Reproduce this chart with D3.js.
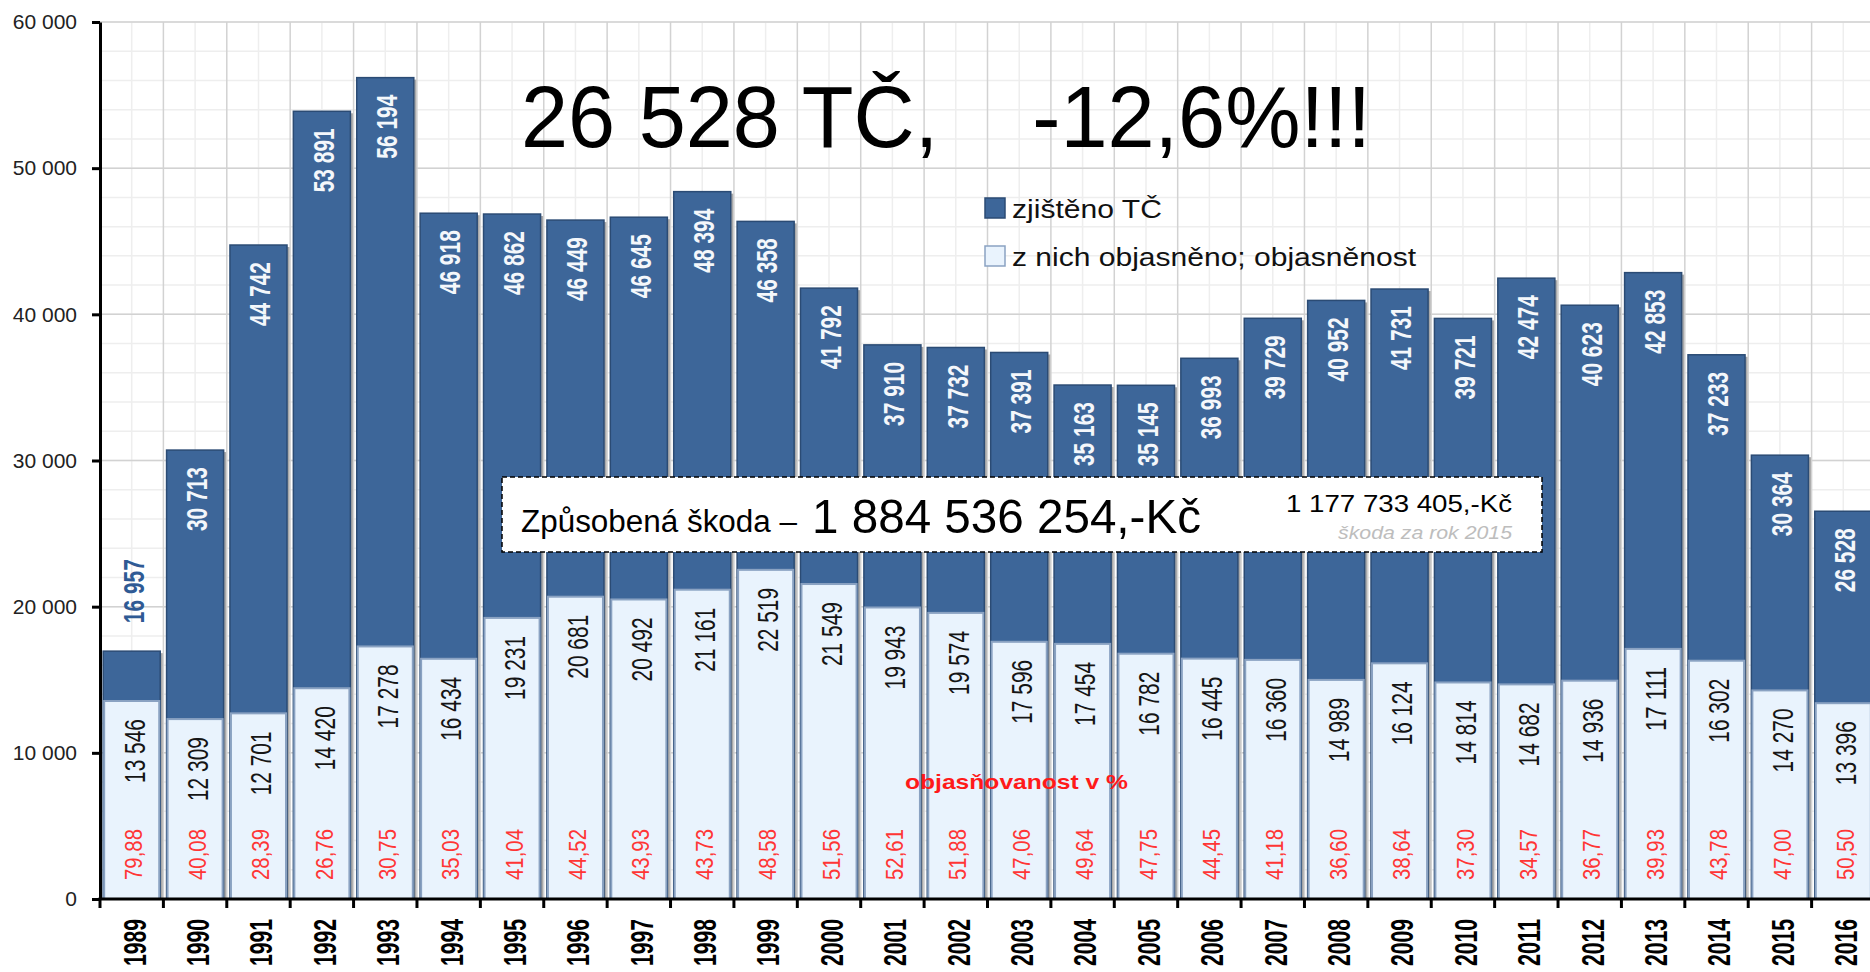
<!DOCTYPE html>
<html>
<head>
<meta charset="utf-8">
<script src="https://cdn.jsdelivr.net/npm/d3@7"></script>
<style>
  body { margin: 0; background: #fff; }
  svg { display: block; }
  text { font-family: "Liberation Sans", Arial, sans-serif; }
</style>
</head>
<body>
<div id="chart"></div>
<script>
// data
const years = ["1989", "1990", "1991", "1992", "1993", "1994", "1995", "1996", "1997", "1998",
  "1999", "2000", "2001", "2002", "2003", "2004", "2005", "2006", "2007", "2008",
  "2009", "2010", "2011", "2012", "2013", "2014", "2015", "2016"];
const zjisteno = [16957, 30713, 44742, 53891, 56194, 46918, 46862, 46449, 46645, 48394,
  46358, 41792, 37910, 37732, 37391, 35163, 35145, 36993, 39729, 40952,
  41731, 39721, 42474, 40623, 42853, 37233, 30364, 26528];
const objasneno = [13546, 12309, 12701, 14420, 17278, 16434, 19231, 20681, 20492, 21161,
  22519, 21549, 19943, 19574, 17596, 17454, 16782, 16445, 16360, 14989,
  16124, 14814, 14682, 14936, 17111, 16302, 14270, 13396];
const objasnenost = ["79,88", "40,08", "28,39", "26,76", "30,75", "35,03", "41,04", "44,52", "43,93", "43,73",
  "48,58", "51,56", "52,61", "51,88", "47,06", "49,64", "47,75", "44,45", "41,18", "36,60",
  "38,64", "37,30", "34,57", "36,77", "39,93", "43,78", "47,00", "50,50"];
const legendLabels = ["zjištěno TČ", "z nich objasněno; objasněnost"];

const width = 1870;
const height = 972;
const darkBlue = "#3d6699";
const lightBlue = "#e9f3fd";

const svg = d3.select("#chart")
  .append("svg")
  .attr("width", width)
  .attr("height", height);

const x = d3.scaleBand()
  .domain(years)
  .range([100, 1875])
  .paddingInner(0.1)
  .paddingOuter(0.05);
const y = d3.scaleLinear().domain([0, 60000]).range([899, 22]);

const fmt = v => d3.format(",")(v).replace(/,/g, " ");
const x0 = x.range()[0];
const bounds = years.map((d, i) => x0 + i * x.step()).concat([x0 + years.length * x.step()]);
const centre = d => x(d) + x.bandwidth() / 2;

// mřížka
const grid = svg.append("g");
grid.selectAll("line.hmin").data(y.ticks(30)).enter().append("line")
  .attr("x1", 100).attr("x2", width)
  .attr("y1", d => y(d)).attr("y2", d => y(d))
  .attr("stroke", "#eeeeee").attr("stroke-width", 1.5);
grid.selectAll("line.vmin").data(years).enter().append("line")
  .attr("x1", centre).attr("x2", centre)
  .attr("y1", y(60000)).attr("y2", y(0))
  .attr("stroke", "#eeeeee").attr("stroke-width", 1.5);
grid.selectAll("line.hmaj").data(y.ticks(6)).enter().append("line")
  .attr("x1", 100).attr("x2", width)
  .attr("y1", d => y(d)).attr("y2", d => y(d))
  .attr("stroke", "#d2d2d2").attr("stroke-width", 1.5);
grid.selectAll("line.vmaj").data(bounds).enter().append("line")
  .attr("x1", d => d).attr("x2", d => d)
  .attr("y1", y(60000)).attr("y2", y(0))
  .attr("stroke", "#d2d2d2").attr("stroke-width", 1.5);

// sloupce
const bars = svg.append("g");
bars.selectAll("rect.shadow").data(years).enter().append("rect")
  .attr("x", d => x(d) + 2.5)
  .attr("y", (d, i) => y(zjisteno[i]) + 2)
  .attr("width", x.bandwidth())
  .attr("height", (d, i) => y(0) - y(zjisteno[i]) - 2)
  .attr("fill", "#a9a9a9");
bars.selectAll("rect.total").data(years).enter().append("rect")
  .attr("x", d => x(d))
  .attr("y", (d, i) => y(zjisteno[i]))
  .attr("width", x.bandwidth())
  .attr("height", (d, i) => y(0) - y(zjisteno[i]))
  .attr("fill", darkBlue)
  .attr("stroke", "#2b4b74").attr("stroke-width", 1.5);
bars.selectAll("rect.solved").data(years).enter().append("rect")
  .attr("x", d => x(d) + 1)
  .attr("y", (d, i) => y(objasneno[i]))
  .attr("width", x.bandwidth() - 2)
  .attr("height", (d, i) => y(0) - y(objasneno[i]))
  .attr("fill", lightBlue)
  .attr("stroke", "#8aa2c2").attr("stroke-width", 2);

// popisky sloupců
const inside = i => (y(objasneno[i]) - y(zjisteno[i])) > 80;
const labels = svg.append("g");
labels.selectAll("text.total").data(years).enter().append("text")
  .attr("transform", (d, i) => {
    const yy = inside(i) ? y(zjisteno[i]) + 17 : y(zjisteno[i]) - 28;
    return `translate(${centre(d) + 1},${yy}) rotate(-90)`;
  })
  .attr("text-anchor", (d, i) => inside(i) ? "end" : "start")
  .attr("dy", "0.36em")
  .attr("font-size", 30)
  .attr("font-weight", "bold")
  .attr("textLength", 64)
  .attr("lengthAdjust", "spacingAndGlyphs")
  .attr("fill", (d, i) => inside(i) ? "#f4f7fb" : "#2f5a94")
  .text((d, i) => fmt(zjisteno[i]));

labels.selectAll("text.solved").data(years).enter().append("text")
  .attr("transform", (d, i) => `translate(${centre(d) + 2},${y(objasneno[i]) + 18}) rotate(-90)`)
  .attr("text-anchor", "end")
  .attr("dy", "0.36em")
  .attr("font-size", 30)
  .attr("textLength", 64)
  .attr("lengthAdjust", "spacingAndGlyphs")
  .attr("fill", "#151515")
  .text((d, i) => fmt(objasneno[i]));

labels.selectAll("text.rate").data(years).enter().append("text")
  .attr("transform", d => `translate(${centre(d) + 2},880) rotate(-90)`)
  .attr("text-anchor", "start")
  .attr("dy", "0.36em")
  .attr("font-size", 24)
  .attr("textLength", 51)
  .attr("lengthAdjust", "spacingAndGlyphs")
  .attr("fill", "#ff3535")
  .text((d, i) => objasnenost[i]);

// osy
const yAxis = svg.append("g")
  .attr("transform", "translate(100,0)")
  .call(d3.axisLeft(y).tickValues(y.ticks(6)).tickFormat(fmt).tickSize(8).tickSizeOuter(0).tickPadding(15));
yAxis.select(".domain").attr("stroke", "#000").attr("stroke-width", 3);
yAxis.selectAll(".tick line").attr("stroke", "#000").attr("stroke-width", 3);
yAxis.selectAll(".tick text")
  .attr("font-family", "'Liberation Sans', Arial, sans-serif")
  .attr("font-size", 21)
  .attr("fill", "#222");

const xAxis = svg.append("g")
  .attr("transform", `translate(0,${y(0)})`)
  .call(d3.axisBottom(x).tickSize(0).tickSizeOuter(0));
xAxis.select(".domain").remove();
xAxis.selectAll(".tick text")
  .attr("transform", "rotate(-90)")
  .attr("text-anchor", "end")
  .attr("x", -20)
  .attr("y", 2)
  .attr("dy", "0.37em")
  .attr("font-family", "'Liberation Sans', Arial, sans-serif")
  .attr("font-size", 32)
  .attr("font-weight", "bold")
  .attr("textLength", 47)
  .attr("lengthAdjust", "spacingAndGlyphs")
  .attr("fill", "#000");
xAxis.append("line")
  .attr("x1", 98.5).attr("x2", width)
  .attr("stroke", "#000").attr("stroke-width", 3);
xAxis.selectAll("line.btick").data(bounds).enter().append("line")
  .attr("x1", d => d).attr("x2", d => d)
  .attr("y1", 0).attr("y2", 9)
  .attr("stroke", "#000").attr("stroke-width", 3);

// legenda
const legend = svg.append("g").attr("transform", "translate(985,198)");
const li = legend.selectAll("g").data(legendLabels).enter().append("g")
  .attr("transform", (d, i) => `translate(0,${i * 48})`);
li.append("rect")
  .attr("width", 20).attr("height", 20)
  .attr("fill", (d, i) => i === 0 ? darkBlue : lightBlue)
  .attr("stroke", (d, i) => i === 0 ? "#2b4b74" : "#8aa2c2")
  .attr("stroke-width", 1.5);
li.append("text")
  .attr("x", 27).attr("y", 20)
  .attr("font-size", 26)
  .attr("textLength", (d, i) => i === 0 ? 150 : 404)
  .attr("lengthAdjust", "spacingAndGlyphs")
  .attr("fill", "#111")
  .text(d => d);

// nadpis
svg.append("text")
  .attr("x", 521).attr("y", 147)
  .style("white-space", "pre")
  .attr("font-size", 88)
  .attr("textLength", 850)
  .attr("lengthAdjust", "spacingAndGlyphs")
  .attr("fill", "#000")
  .text("26 528 TČ,    -12,6%!!!");

// rámeček se škodou
const box = svg.append("g");
box.append("rect")
  .attr("x", 502).attr("y", 477)
  .attr("width", 1040).attr("height", 75)
  .attr("fill", "#fff")
  .attr("stroke", "#000").attr("stroke-width", 1.5)
  .attr("stroke-dasharray", "5,3");
box.append("text")
  .attr("x", 521).attr("y", 532)
  .attr("font-size", 31)
  .attr("textLength", 276)
  .attr("lengthAdjust", "spacingAndGlyphs")
  .text("Způsobená škoda –");
box.append("text")
  .attr("x", 812).attr("y", 533)
  .attr("font-size", 49)
  .attr("textLength", 389)
  .attr("lengthAdjust", "spacingAndGlyphs")
  .text("1 884 536 254,-Kč");
box.append("text")
  .attr("x", 1286).attr("y", 512)
  .attr("font-size", 23)
  .attr("textLength", 226)
  .attr("lengthAdjust", "spacingAndGlyphs")
  .text("1 177 733 405,-Kč");
box.append("text")
  .attr("x", 1338).attr("y", 539)
  .attr("font-size", 19)
  .attr("font-style", "italic")
  .attr("textLength", 174)
  .attr("lengthAdjust", "spacingAndGlyphs")
  .attr("fill", "#bdbdbd")
  .text("škoda za rok 2015");

// objasňovanost v %
svg.append("text")
  .attr("x", 905).attr("y", 789)
  .attr("font-size", 21)
  .attr("font-weight", "bold")
  .attr("textLength", 223)
  .attr("lengthAdjust", "spacingAndGlyphs")
  .attr("fill", "#ff1a1a")
  .text("objasňovanost v %");
</script>
</body>
</html>
